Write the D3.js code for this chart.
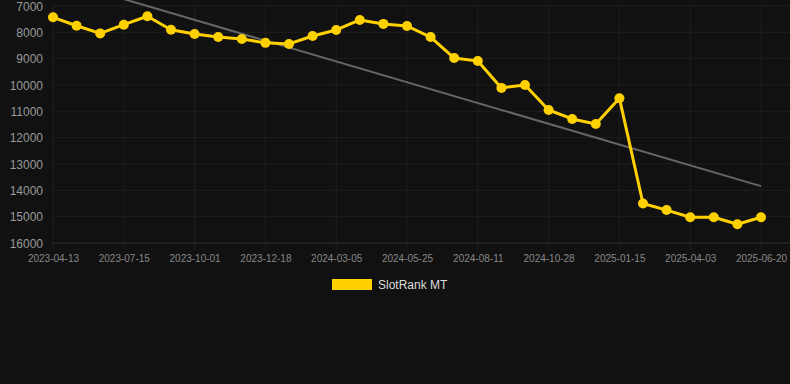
<!DOCTYPE html>
<html>
<head>
<meta charset="utf-8">
<script src="https://cdn.jsdelivr.net/npm/d3@7"></script>
<style>
html,body{margin:0;padding:0;background:#111111;}
svg{display:block;}
text{font-family:"Liberation Sans",Arial,sans-serif;}
</style>
</head>
<body>
<svg id="chart" width="790" height="384"></svg>
<script>
const dates = ["2023-04-13","2023-05-14","2023-06-14","2023-07-15","2023-08-10","2023-09-05","2023-10-01","2023-10-27","2023-11-22","2023-12-18","2024-01-13","2024-02-08","2024-03-05","2024-04-01","2024-04-28","2024-05-25","2024-06-20","2024-07-16","2024-08-11","2024-09-06","2024-10-02","2024-10-28","2024-11-23","2024-12-20","2025-01-15","2025-02-10","2025-03-08","2025-04-03","2025-04-29","2025-05-25","2025-06-20"];
const rankValues = [7430,7750,8040,7710,7390,7900,8060,8180,8250,8400,8440,8140,7910,7530,7680,7760,8180,8975,9090,10110,10000,10950,11290,11480,10500,14500,14750,15020,15020,15290,15020];
const yTicks = [7000,8000,9000,10000,11000,12000,13000,14000,15000,16000];
const xTickLabels = ["2023-04-13","2023-07-15","2023-10-01","2023-12-18","2024-03-05","2024-05-25","2024-08-11","2024-10-28","2025-01-15","2025-04-03","2025-06-20"];
const seriesName = "SlotRank MT";

(function () {
const svg = d3.select("#chart");
const W = 790, H = 384;
const pL = 53, pR = 761, pT = 6, pB = 243;
const yellow = "#FFD100";

const x = d3.scalePoint().domain(dates).range([pL, pR]);
const y = d3.scaleLinear().domain([7000, 16000]).range([pT, pB]);

// grid
const grid = svg.append("g");
grid.selectAll("line.h").data(yTicks).enter().append("line")
  .attr("x1", pL).attr("x2", W)
  .attr("y1", d => y(d)).attr("y2", d => y(d))
  .attr("stroke", d => d === 16000 ? "#2e2e2e" : "#1f1f1f").attr("stroke-width", 1);
grid.selectAll("line.v").data(xTickLabels).enter().append("line")
  .attr("x1", d => x(d)).attr("x2", d => x(d))
  .attr("y1", pT).attr("y2", pB + 6)
  .attr("stroke", "#1f1f1f").attr("stroke-width", 1);

// y axis
const yAxis = d3.axisLeft(y).tickValues(yTicks).tickSize(0).tickPadding(0).tickFormat(d => String(d));
const yg = svg.append("g").attr("transform", `translate(${pL - 10},0)`).call(yAxis);
yg.select(".domain").remove();
yg.selectAll("text").attr("fill", "#999999").attr("font-size", 12).attr("dy", "0.35em");

// x axis
const xAxis = d3.axisBottom(x).tickValues(xTickLabels).tickSize(0).tickPadding(0);
const xg = svg.append("g").attr("transform", `translate(0,${pB + 12})`).call(xAxis);
xg.select(".domain").remove();
xg.selectAll("text").attr("fill", "#888888").attr("font-size", 10).attr("dy", "0.71em");

// trend line (least squares)
const n = rankValues.length;
const idx = d3.range(n);
const mx = d3.mean(idx), my = d3.mean(rankValues);
const slope = d3.sum(idx, i => (i - mx) * (rankValues[i] - my)) / d3.sum(idx, i => (i - mx) * (i - mx));
const icpt = my - slope * mx;
svg.append("defs").append("clipPath").attr("id", "clipTop")
  .append("rect").attr("x", 0).attr("y", 0).attr("width", W).attr("height", H);
svg.append("line")
  .attr("clip-path", "url(#clipTop)")
  .attr("x1", x(dates[0])).attr("y1", y(icpt))
  .attr("x2", x(dates[n - 1])).attr("y2", y(icpt + slope * (n - 1)))
  .attr("stroke", "#666666").attr("stroke-width", 2);

// series line
const line = d3.line().x((d, i) => x(dates[i])).y(d => y(d));
svg.append("path").datum(rankValues)
  .attr("d", line).attr("fill", "none")
  .attr("stroke", yellow).attr("stroke-width", 3).attr("stroke-linejoin", "round");
svg.selectAll("circle.pt").data(rankValues).enter().append("circle")
  .attr("cx", (d, i) => x(dates[i])).attr("cy", d => y(d))
  .attr("r", 5).attr("fill", yellow);

// legend
svg.append("rect").attr("x", 332).attr("y", 279).attr("width", 40).attr("height", 11).attr("fill", yellow);
svg.append("text").attr("x", 378).attr("y", 289).attr("fill", "#dddddd").attr("font-size", 12).text(seriesName);
})();
</script>
</body>
</html>
